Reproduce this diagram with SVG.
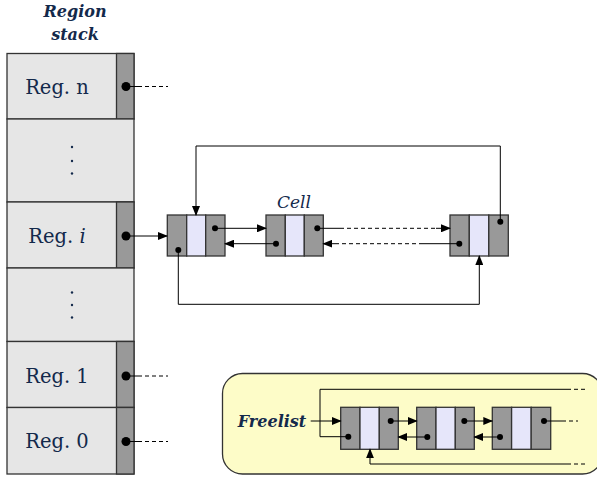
<svg xmlns="http://www.w3.org/2000/svg" width="597" height="478" viewBox="0 0 597 478">
<defs>
<marker id="ah" markerWidth="10" markerHeight="8" refX="9" refY="4" orient="auto" markerUnits="userSpaceOnUse">
<path d="M0,0 L10,4 L0,8 Z" fill="#000"/>
</marker>
<style>
.reg{fill:#e6e6e6;stroke:#333;stroke-width:1.3}
.dk{fill:#999;stroke:#333;stroke-width:1.3}
.lt{fill:#e6e6fa;stroke:#333;stroke-width:1.3}
.dot{fill:#000}
.ln{fill:none;stroke:#000;stroke-width:1}
.ds{fill:none;stroke:#000;stroke-width:1;stroke-dasharray:4,3}
.lbl{font-family:"DejaVu Serif","Liberation Serif",serif;font-size:19.5px;fill:#13294b}
.ttl{font-family:"DejaVu Serif","Liberation Serif",serif;font-size:16px;font-weight:bold;font-style:italic;fill:#13294b}
.cl{font-family:"DejaVu Serif","Liberation Serif",serif;font-size:17px;font-style:italic;fill:#13294b}
.vd{fill:#13294b}
</style>
</defs>
<rect width="597" height="478" fill="#fff"/>
<g id="title"><text class="ttl" x="75" y="17" text-anchor="middle">Region</text><text class="ttl" x="75" y="40" text-anchor="middle">stack</text></g>
<g id="reg-n"><rect class="reg" x="7" y="53.5" width="127" height="65.5"/><rect class="dk" x="116.5" y="53.5" width="17.5" height="65.5"/><text class="lbl" x="57" y="94" text-anchor="middle">Reg. n</text><circle class="dot" cx="126" cy="86.5" r="4.5"/></g>
<g id="dots-1"><rect class="reg" x="7" y="119" width="127" height="83"/><circle class="vd" cx="72" cy="147" r="1.2"/><circle class="vd" cx="72" cy="161" r="1.2"/><circle class="vd" cx="72" cy="173.5" r="1.2"/></g>
<g id="reg-i"><rect class="reg" x="7" y="202" width="127" height="66"/><rect class="dk" x="116.5" y="202" width="17.5" height="66"/><text class="lbl" x="57" y="243" text-anchor="middle">Reg. <tspan font-style="italic">i</tspan></text><circle class="dot" cx="126" cy="236" r="4.5"/></g>
<g id="dots-2"><rect class="reg" x="7" y="268" width="127" height="73.5"/><circle class="vd" cx="72" cy="292.5" r="1.2"/><circle class="vd" cx="72" cy="305" r="1.2"/><circle class="vd" cx="72" cy="317.5" r="1.2"/></g>
<g id="reg-1"><rect class="reg" x="7" y="341.5" width="127" height="66"/><rect class="dk" x="116.5" y="341.5" width="17.5" height="66"/><text class="lbl" x="57" y="383" text-anchor="middle">Reg. 1</text><circle class="dot" cx="126" cy="376" r="4.5"/></g>
<g id="reg-0"><rect class="reg" x="7" y="407.5" width="127" height="66.5"/><rect class="dk" x="116.5" y="407.5" width="17.5" height="66.5"/><text class="lbl" x="57" y="448" text-anchor="middle">Reg. 0</text><circle class="dot" cx="126" cy="441.5" r="4.5"/></g>
<g id="freelist-box"><rect x="222.5" y="373.5" width="380" height="100.5" rx="20" fill="#fdfcc8" stroke="#333" stroke-width="1.3"/><text class="ttl" x="272" y="427" text-anchor="middle">Freelist</text></g>
<g id="cell-1"><rect class="dk" x="167.3" y="215" width="19.4" height="41"/><rect class="lt" x="186.7" y="215" width="19" height="41"/><rect class="dk" x="205.7" y="215" width="19.3" height="41"/><circle class="dot" cx="215" cy="228.3" r="3"/><circle class="dot" cx="178.3" cy="250" r="3"/></g>
<g id="cell-2"><text class="cl" x="294" y="208" text-anchor="middle">Cell</text><rect class="dk" x="266" y="215" width="19.3" height="41"/><rect class="lt" x="285.3" y="215" width="19" height="41"/><rect class="dk" x="304.3" y="215" width="19" height="41"/><circle class="dot" cx="317.3" cy="228.3" r="3"/><circle class="dot" cx="276" cy="243.7" r="3"/></g>
<g id="cell-3"><rect class="dk" x="450" y="215" width="19.3" height="41"/><rect class="lt" x="469.3" y="215" width="19.5" height="41"/><rect class="dk" x="488.8" y="215" width="19.5" height="41"/><circle class="dot" cx="500.3" cy="221.7" r="3"/><circle class="dot" cx="459.3" cy="243.7" r="3"/></g>
<g id="fcell-a"><rect class="dk" x="340.7" y="407.3" width="19.3" height="42"/><rect class="lt" x="360" y="407.3" width="19.3" height="42"/><rect class="dk" x="379.3" y="407.3" width="19" height="42"/><circle class="dot" cx="390.7" cy="421" r="3"/><circle class="dot" cx="348.3" cy="436.7" r="3"/></g>
<g id="fcell-b"><rect class="dk" x="416.7" y="407.3" width="19.3" height="42"/><rect class="lt" x="436" y="407.3" width="19.3" height="42"/><rect class="dk" x="455.3" y="407.3" width="19" height="42"/><circle class="dot" cx="464.3" cy="421" r="3"/><circle class="dot" cx="427.3" cy="437" r="3"/></g>
<g id="fcell-c"><rect class="dk" x="492.3" y="407.3" width="19.3" height="42"/><rect class="lt" x="511.6" y="407.3" width="19.6" height="42"/><rect class="dk" x="531.2" y="407.3" width="19.5" height="42"/><circle class="dot" cx="544" cy="421" r="3"/><circle class="dot" cx="500" cy="437" r="3"/></g>
<g id="connectors">
<path class="ln" d="M130,86.5 H138"/><path class="ds" d="M138,86.5 H168"/>
<path class="ln" d="M130,376 H138"/><path class="ds" d="M138,376 H168"/>
<path class="ln" d="M130,441.5 H138"/><path class="ds" d="M138,441.5 H168"/>
<path class="ln" d="M130,236 H167" marker-end="url(#ah)"/>
<path class="ln" d="M215,228.3 H266" marker-end="url(#ah)"/>
<path class="ln" d="M276,243.7 H225" marker-end="url(#ah)"/>
<path class="ln" d="M317.3,228.3 H340"/><path class="ds" d="M340,228.3 H436"/><path class="ln" d="M436,228.3 H450" marker-end="url(#ah)"/>
<path class="ln" d="M459.3,243.7 H423"/><path class="ds" d="M423,243.7 H338"/><path class="ln" d="M338,243.7 H323.3" marker-end="url(#ah)"/>
<path class="ln" d="M500.3,221.7 V146 H196 V215" marker-end="url(#ah)"/>
<path class="ln" d="M178.3,250 V304.3 H479.3 V256" marker-end="url(#ah)"/>
<path class="ln" d="M310.7,421 H340.7" marker-end="url(#ah)"/>
<path class="ln" d="M348.3,436.7 H320 V389.3 H567"/><path class="ds" d="M567,389.3 H588"/>
<path class="ln" d="M390.7,421 H416.7" marker-end="url(#ah)"/>
<path class="ln" d="M427.3,437 H398.3" marker-end="url(#ah)"/>
<path class="ln" d="M464.3,421 H492.3" marker-end="url(#ah)"/>
<path class="ln" d="M500,437 H474.3" marker-end="url(#ah)"/>
<path class="ln" d="M544,421 H562"/><path class="ds" d="M562,421 H578"/>
<path class="ln" d="M567,464 H370 V449.3" marker-end="url(#ah)"/><path class="ds" d="M567,464 H588"/>
</g>
</svg>
